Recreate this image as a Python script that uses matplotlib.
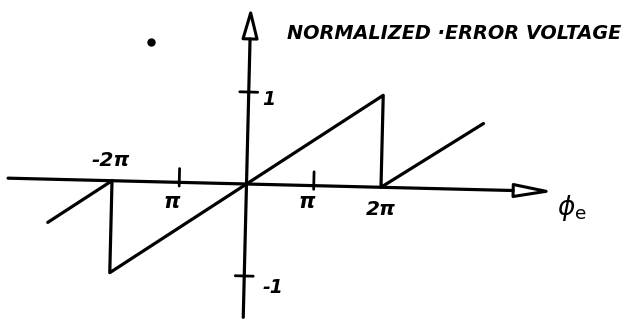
import numpy as np
import matplotlib
matplotlib.use('Agg')
import matplotlib.pyplot as plt
from matplotlib.transforms import Affine2D
from matplotlib.patches import Polygon

# sawtooth phase-detector characteristic, vertices read as (phase [rad], volts)
phase = [-2.94 * np.pi, -2 * np.pi, -2 * np.pi, 2 * np.pi, 2 * np.pi, 3.5 * np.pi]
error_voltage = [-0.47, 0.0, -1.0, 1.0, 0.0, 0.72]

x_ticks = [-np.pi, np.pi]
x_tick_labels = ['π', 'π']
y_ticks = [1, -1]
y_tick_labels = ['1', '-1']
curve_labels = [(-2 * np.pi, '-2π'), (2 * np.pi, '2π')]

title = 'NORMALIZED ·ERROR VOLTAGE'
x_name = r'$\phi_\mathrm{e}$'

# axis extents (data units)
x_axis = (-11.14, 14.0)
y_axis = (-1.45, 1.86)

px_x = 21.41   # pixels per radian
px_y = 92.0    # pixels per volt

fig = plt.figure(figsize=(6.39, 3.2), dpi=100)
ax = fig.add_axes([0, 0, 1, 1])
ax.set_xlim(-246.5 / px_x, (639 - 246.5) / px_x)
ax.set_ylim(-(320 - 184) / px_y, 184 / px_y)
ax.axis('off')

# the sketch is drawn slightly rotated about the origin
ox, oy = ax.transData.transform((0, 0))
tilt = ax.transData + Affine2D().rotate_deg_around(ox, oy, -1.4)

ink = dict(color='black', solid_capstyle='round', solid_joinstyle='round')

# axes with open arrowheads
head_len_x, head_w_x = 33 / px_x, 6 / px_y
head_len_y, head_w_y = 26 / px_y, 7 / px_x
ax.plot([x_axis[0], x_axis[1] - head_len_x], [0, 0], lw=2.3, transform=tilt, **ink)
ax.plot([0, 0], [y_axis[0], y_axis[1] - head_len_y], lw=2.3, transform=tilt, **ink)
xh = Polygon([[x_axis[1] - head_len_x, head_w_x], [x_axis[1], 0],
              [x_axis[1] - head_len_x, -head_w_x]], closed=True,
             fc='white', ec='black', lw=2.2, joinstyle='round', transform=tilt)
yh = Polygon([[-head_w_y, y_axis[1] - head_len_y], [0, y_axis[1]],
              [head_w_y, y_axis[1] - head_len_y]], closed=True,
             fc='white', ec='black', lw=2.2, joinstyle='round', transform=tilt)
ax.add_patch(xh)
ax.add_patch(yh)

# tick marks
for xt in x_ticks:
    ax.plot([xt, xt], [-0.04, 0.15], lw=2.0, transform=tilt, **ink)
for yt in y_ticks:
    ax.plot([-0.42, 0.42], [yt, yt], lw=2.0, transform=tilt, **ink)

# the characteristic
ax.plot(phase, error_voltage, lw=2.3, transform=tilt, **ink)

font = dict(fontweight='bold', fontstyle='italic', color='black')

for xt, lab in zip(x_ticks, x_tick_labels):
    ax.text(xt - 0.35, -0.2, lab, ha='center', va='center', fontsize=15, **font)
for yt, lab in zip(y_ticks, y_tick_labels):
    ax.text(0.75, yt * 1.02 - 0.1, lab, ha='left', va='center', fontsize=13.5, **font)
ax.text(curve_labels[0][0] - 0.05, 0.26, curve_labels[0][1], ha='center', va='center',
        fontsize=14.5, **font)
ax.text(curve_labels[1][0], -0.28, curve_labels[1][1], ha='center', va='center',
        fontsize=14.5, **font)

ax.text(1.89, 1.64, title, ha='left', va='center', fontsize=13.9, **font)
ax.text(14.5, -0.26, x_name, ha='left', va='center', fontsize=19, color='black')

# stray pen mark above the curve
ax.plot([-4.46], [1.54], marker='o', ms=5, color='black')

fig.savefig('out.png', dpi=100)
